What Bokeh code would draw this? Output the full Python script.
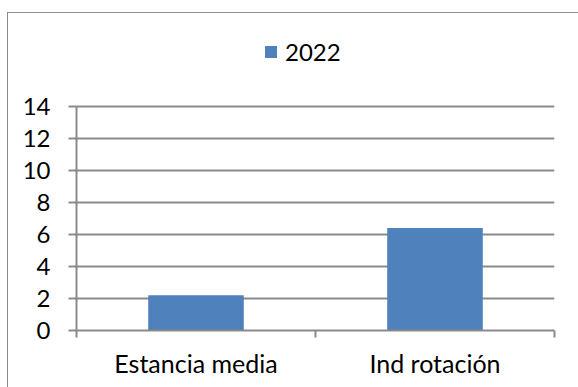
from bokeh.plotting import figure
from bokeh.models import (FactorRange, Range1d, FixedTicker, LinearAxis, CategoricalAxis,
                          Legend, LegendItem, ColumnDataSource, Grid)
from bokeh.embed import file_html
from bokeh.resources import INLINE

# ---- data ----
categories = ["Estancia media", "Ind rotación"]
values_2022 = [2.2, 6.4]
series_name = "2022"
y_ticks = [0, 2, 4, 6, 8, 10, 12, 14]

# ---- style / layout ----
FONT = "Lato"
FS_NUM = "24px"
FS_CAT = "25px"
GRID = "#8a8a8a"
BAR = "#4F81BD"
# the plot area reaches up into the legend strip (axis drawn only over 0..14)
Y_VIEW_TOP = 18.75

src = ColumnDataSource(dict(cat=categories, val=values_2022))

p = figure(x_range=FactorRange(*categories, range_padding=0),
           y_range=Range1d(y_ticks[0], Y_VIEW_TOP),
           width=578, height=387, output_backend="svg", toolbar_location=None,
           x_axis_location=None, y_axis_location=None,
           min_border_left=76, min_border_right=24, min_border_top=30, min_border_bottom=57,
           background_fill_color="white", border_fill_color="white")
p.outline_line_color = None
p.grid.grid_line_color = None

# horizontal gridlines
p.add_layout(Grid(dimension=1, ticker=FixedTicker(ticks=y_ticks),
                  grid_line_color=GRID, grid_line_width=2))

# y axis
yax = LinearAxis(ticker=FixedTicker(ticks=y_ticks), bounds=(y_ticks[0], y_ticks[-1]),
                 major_tick_out=8, major_tick_in=0,
                 minor_tick_line_color=None, axis_line_color=GRID, axis_line_width=2,
                 major_tick_line_color=GRID, major_tick_line_width=2,
                 major_label_standoff=18, major_label_text_font=FONT,
                 major_label_text_font_size=FS_NUM, major_label_text_color="black")
p.add_layout(yax, "left")

# x axis: ticks on category boundaries (synthetic factor coordinates 0..n)
edges = list(range(len(categories) + 1))
eax = LinearAxis(ticker=FixedTicker(ticks=edges),
                 major_tick_out=7, major_tick_in=0, minor_tick_line_color=None,
                 axis_line_color=GRID, axis_line_width=2,
                 major_tick_line_color=GRID, major_tick_line_width=2,
                 major_label_overrides={e: "" for e in edges},
                 major_label_text_font_size="0px", major_label_standoff=0)
p.add_layout(eax, "below")

# x axis: category labels
cax = CategoricalAxis(axis_line_color=None, major_tick_line_color=None, major_tick_out=0,
                      major_tick_in=0, major_label_standoff=10, major_label_text_font=FONT,
                      major_label_text_font_size=FS_CAT, major_label_text_color="black")
p.add_layout(cax, "below")

# bars
r = p.vbar(x="cat", top="val", width=0.4, source=src, fill_color=BAR, line_color=None)

# legend
leg = Legend(items=[LegendItem(label=series_name, renderers=[r])], location=(187, 264),
             orientation="horizontal", glyph_width=15, glyph_height=15, label_standoff=7,
             padding=0, margin=0, spacing=0, border_line_color=None, background_fill_alpha=0,
             label_text_font=FONT, label_text_font_size=FS_NUM, label_text_color="black")
p.add_layout(leg, "center")

html = file_html(p, INLINE)
# outer chart-area border: only its left and top edges fall inside the picture
frame_css = ("<style>body::before{content:'';position:fixed;left:7px;top:12px;"
             "width:2000px;height:2000px;border:1px solid #8c8c8c;"
             "pointer-events:none;z-index:10;}</style></head>")
html = html.replace("</head>", frame_css, 1)
open("out.html", "w").write(html)
